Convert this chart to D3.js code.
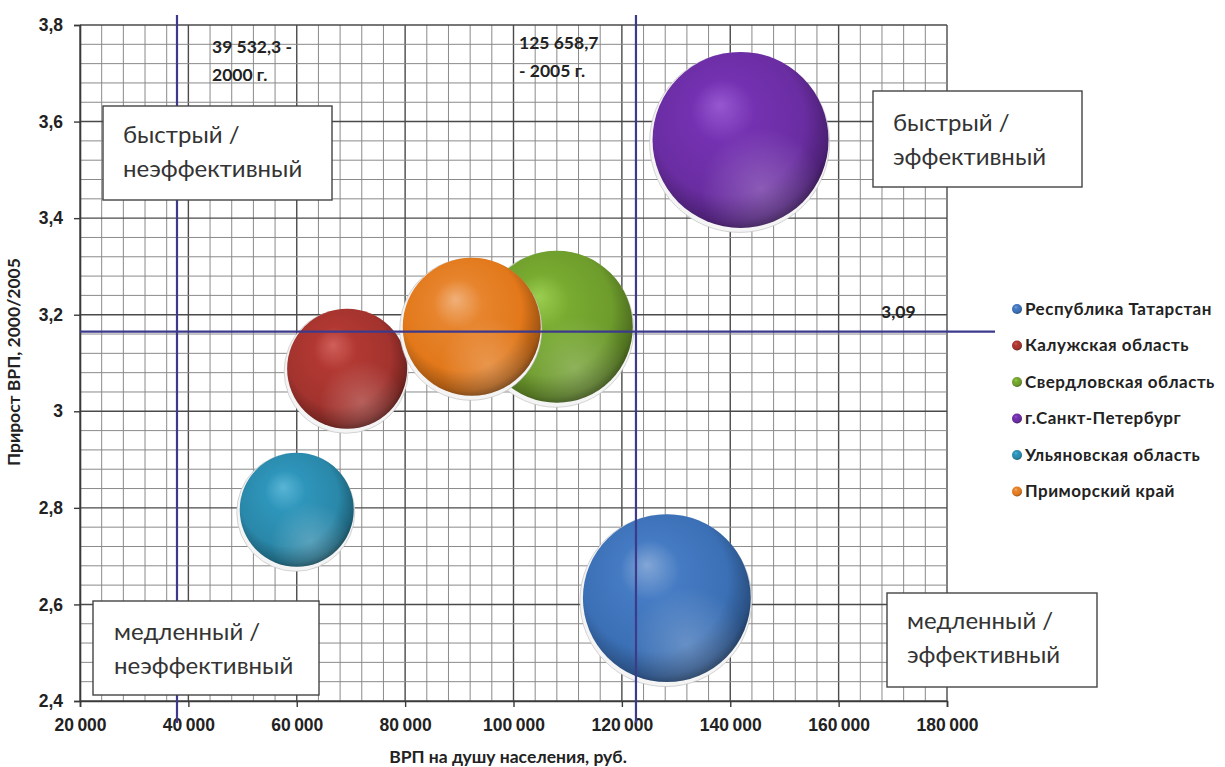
<!DOCTYPE html>
<html>
<head>
<meta charset="utf-8">
<script src="https://cdn.jsdelivr.net/npm/d3@7"></script>
<style>
  body { margin: 0; background: #fff; }
  svg { display: block; font-family: Lato, "Open Sans", sans-serif; }
</style>
</head>
<body>
<svg id="chart" width="1225" height="767"></svg>
<script>
// series (series order = legend order = draw order)
var regions = ["Республика Татарстан", "Калужская область", "Свердловская область",
               "г.Санкт-Петербург", "Ульяновская область", "Приморский край"];
var grpPerCapita = [128300, 69300, 108000, 141900, 60000, 92300];
var grpGrowth = [2.613, 3.088, 3.175, 3.562, 2.796, 3.175];
var bubbleSize = [91, 46.5, 74.5, 100, 42, 61.5];
var baseColors = ["#3b70b6", "#a3332e", "#6e9c2c", "#6a2da2", "#2a88aa", "#e2781a"];

var xTicks = [20000, 40000, 60000, 80000, 100000, 120000, 140000, 160000, 180000];
var yTicks = [2.4, 2.6, 2.8, 3.0, 3.2, 3.4, 3.6, 3.8];

// dividing lines as drawn on the chart and their labels
var splitX = [37900, 122600];
var splitXLabels = [["39 532,3 -", "2000 г."], ["125 658,7", "- 2005 г."]];
var splitY = 3.165;
var splitYLabel = "3,09";

var quadrantLabels = [["быстрый /", "неэффективный"], ["быстрый /", "эффективный"],
                      ["медленный /", "неэффективный"], ["медленный /", "эффективный"]];

var xTitle = "ВРП на душу населения, руб.";
var yTitle = "Прирост ВРП, 2000/2005";

var svg = d3.select("#chart");
var plotLeft = 80, plotRight = 947, plotTop = 25, plotBottom = 701;

var x = d3.scaleLinear().domain([20000, 180000]).range([plotLeft, plotRight]);
var y = d3.scaleLinear().domain([2.4, 3.8]).range([plotBottom, plotTop]);
var r = d3.scaleSqrt().domain([0, 100]).range([0, 88]);

var ru = d3.formatLocale({decimal: ",", thousands: "\u2009", grouping: [3], currency: ["", " руб."]});
var fmtX = ru.format(",d");
var fmtY = ru.format("~g");

// gradients for the spheres
var defs = svg.append("defs");
baseColors.forEach(function(c, i) {
  var g = defs.append("radialGradient")
    .attr("id", "ball" + i)
    .attr("cx", 0.45).attr("cy", 0.42).attr("r", 0.6)
    .attr("fx", 0.38).attr("fy", 0.3);
  g.append("stop").attr("offset", "0%").attr("stop-color", d3.hsl(c).brighter(1.0));
  g.append("stop").attr("offset", "30%").attr("stop-color", d3.hsl(c).brighter(0.25));
  g.append("stop").attr("offset", "72%").attr("stop-color", c);
  g.append("stop").attr("offset", "92%").attr("stop-color", d3.hsl(c).darker(0.9));
  g.append("stop").attr("offset", "100%").attr("stop-color", d3.hsl(c).darker(2));
});
var gloss = defs.append("radialGradient").attr("id", "gloss")
  .attr("cx", 0.62).attr("cy", 0.78).attr("r", 0.35);
gloss.append("stop").attr("offset", "0%").attr("stop-color", "#fff").attr("stop-opacity", 0.22);
gloss.append("stop").attr("offset", "100%").attr("stop-color", "#fff").attr("stop-opacity", 0);

// grid
var minorX = d3.range(20000, 180001, 4000);
var minorY = d3.range(0, 36).map(function(i) { return 2.4 + i * 0.04; });
var grid = svg.append("g");
grid.selectAll(".mx").data(minorX).enter().append("line")
  .attr("x1", function(d) { return x(d); }).attr("x2", function(d) { return x(d); })
  .attr("y1", plotTop).attr("y2", plotBottom)
  .attr("stroke", function(d) { return d % 20000 == 0 ? "#4a4a4a" : "#8a8a8a"; })
  .attr("stroke-width", function(d) { return d % 20000 == 0 ? 1.4 : 1; });
grid.selectAll(".my").data(minorY).enter().append("line")
  .attr("y1", function(d) { return y(d); }).attr("y2", function(d) { return y(d); })
  .attr("x1", plotLeft).attr("x2", plotRight)
  .attr("stroke", function(d, i) { return i % 5 == 0 ? "#4a4a4a" : "#8a8a8a"; })
  .attr("stroke-width", function(d, i) { return i % 5 == 0 ? 1.4 : 1; });

// axes
var xAxis = svg.append("g").attr("transform", "translate(0," + plotBottom + ")")
  .call(d3.axisBottom(x).tickValues(xTicks).tickSize(6).tickPadding(12).tickFormat(fmtX));
var yAxis = svg.append("g").attr("transform", "translate(" + plotLeft + ",0)")
  .call(d3.axisLeft(y).tickValues(yTicks).tickSize(6).tickPadding(11).tickFormat(fmtY));
[xAxis, yAxis].forEach(function(a) {
  a.select(".domain").attr("stroke", "#3a3a3a").attr("stroke-width", 1.6);
  a.selectAll(".tick line").attr("stroke", "#3a3a3a").attr("stroke-width", 1.4);
  a.selectAll("text").attr("fill", "#222").attr("font-size", 17.5).attr("font-weight", 700);
});

// bubbles
var data = regions.map(function(name, i) {
  return {name: name, x: grpPerCapita[i], y: grpGrowth[i], s: bubbleSize[i], i: i};
});
var balls = svg.append("g").selectAll("g").data(data).enter().append("g")
  .attr("transform", function(d) { return "translate(" + x(d.x) + "," + y(d.y) + ")"; });
balls.append("circle")
  .attr("cx", -1).attr("cy", 2.5)
  .attr("r", function(d) { return r(d.s) + 2; })
  .attr("fill", "#f4f4f4").attr("stroke", "#bbb").attr("stroke-width", 0.6);
balls.append("circle")
  .attr("r", function(d) { return r(d.s); })
  .attr("fill", function(d) { return "url(#ball" + d.i + ")"; });
balls.append("circle")
  .attr("r", function(d) { return r(d.s); })
  .attr("fill", "url(#gloss)");

// dividing lines
var lines = svg.append("g").attr("stroke", "#3d3a8c").attr("stroke-width", 2.2);
lines.selectAll(".vx").data(splitX).enter().append("line")
  .attr("x1", function(d) { return x(d); }).attr("x2", function(d) { return x(d); })
  .attr("y1", plotTop - 10).attr("y2", plotBottom + 22);
lines.append("line")
  .attr("x1", plotLeft).attr("x2", 995)
  .attr("y1", y(splitY)).attr("y2", y(splitY));

// labels of the dividing lines
var ann = svg.append("g").attr("font-size", 17.5).attr("font-weight", 700).attr("fill", "#222");
splitXLabels.forEach(function(lbl, i) {
  var t = ann.append("text").attr("x", i == 0 ? 212 : 519).attr("y", i == 0 ? 53 : 49);
  lbl.forEach(function(s, k) {
    t.append("tspan").attr("x", i == 0 ? 212 : 519).attr("dy", k == 0 ? 0 : 28).text(s);
  });
});
ann.append("text").attr("x", 881).attr("y", y(splitY) - 14).text(splitYLabel);

// quadrant boxes
var boxes = [
  {x: 103, y: 106, w: 229, h: 94, tx: 123, ty: 143},
  {x: 873, y: 91, w: 209, h: 96, tx: 893, ty: 131},
  {x: 93, y: 601, w: 226, h: 94, tx: 114, ty: 640},
  {x: 887, y: 593, w: 210, h: 94, tx: 907, ty: 629}
];
var qb = svg.append("g").selectAll("g").data(boxes).enter().append("g");
qb.append("rect")
  .attr("x", function(d) { return d.x; }).attr("y", function(d) { return d.y; })
  .attr("width", function(d) { return d.w; }).attr("height", function(d) { return d.h; })
  .attr("fill", "#fff").attr("stroke", "#444").attr("stroke-width", 1.4);
qb.append("text")
  .attr("font-size", 24).attr("fill", "#333")
  .each(function(d, i) {
    var t = d3.select(this);
    quadrantLabels[i].forEach(function(s, k) {
      t.append("tspan").attr("x", d.tx).attr("y", d.ty + k * 34).text(s);
    });
  });

// axis titles
svg.append("text").attr("x", 508).attr("y", 763)
  .attr("text-anchor", "middle").attr("font-size", 17.5).attr("font-weight", 700).attr("fill", "#222")
  .text(xTitle);
svg.append("text").attr("transform", "translate(20,362) rotate(-90)")
  .attr("text-anchor", "middle").attr("font-size", 17.5).attr("font-weight", 700).attr("fill", "#222")
  .text(yTitle);

// legend
var leg = svg.append("g").selectAll("g").data(data).enter().append("g")
  .attr("transform", function(d, i) { return "translate(1017," + (309 + i * 36.5) + ")"; });
leg.append("circle").attr("r", 5).attr("fill", function(d) { return "url(#ball" + d.i + ")"; });
leg.append("text").attr("x", 8).attr("dy", "0.35em")
  .attr("font-size", 17).attr("font-weight", 700).attr("fill", "#222")
  .attr("letter-spacing", 0.5)
  .text(function(d) { return d.name; });
</script>
</body>
</html>
